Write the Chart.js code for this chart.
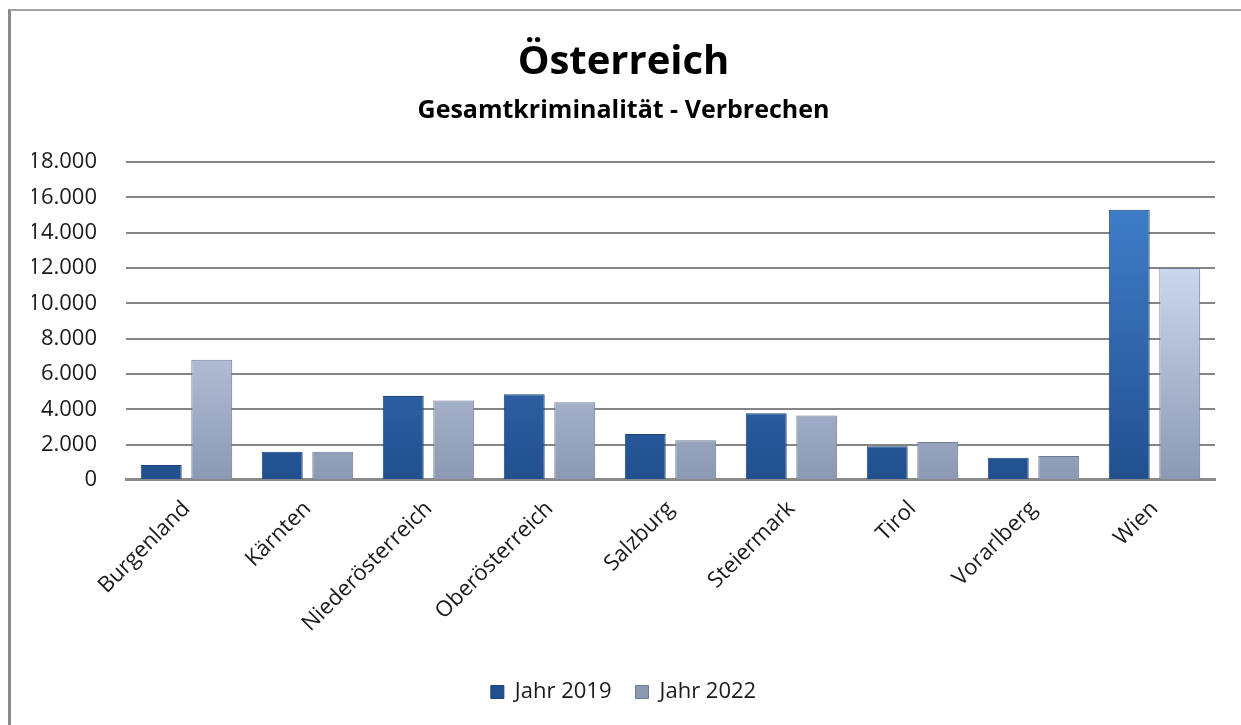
<!DOCTYPE html>
<html>
<head>
<meta charset="utf-8">
<script src="https://cdn.jsdelivr.net/npm/chart.js@4"></script>
<style>
  html, body { margin: 0; padding: 0; background: #ffffff; }
  #wrap { position: relative; width: 1241px; height: 725px; overflow: hidden; }
  #frame { position: absolute; left: 8px; top: 9px; width: 1300px; height: 800px;
           border-left: 3px solid #8a8a8a; border-top: 2px solid #a5a5a5; }
  #chart { position: absolute; left: 0; top: 0; }
</style>
</head>
<body>
<div id="wrap">
  <div id="frame"></div>
  <canvas id="chart" width="1241" height="725"></canvas>
</div>
<script>
const regionen = ['Burgenland', 'Kärnten', 'Niederösterreich', 'Oberösterreich', 'Salzburg',
                  'Steiermark', 'Tirol', 'Vorarlberg', 'Wien'];
const jahr2019 = [850, 1600, 4750, 4850, 2600, 3780, 1900, 1250, 15300];
const jahr2022 = [6800, 1600, 4500, 4400, 2250, 3650, 2150, 1350, 12000];
const yTicks = [0, 2000, 4000, 6000, 8000, 10000, 12000, 14000, 16000, 18000];

const schrift = '"Open Sans", "Noto Sans", sans-serif';

// Farben: [oben, unten, Rand]
const farben = [
    ['#3f7dc8', '#22508f', '#1d4274'],
    ['#ccd7ed', '#8c99b3', '#6f7b93']
];

// jeder Balken bekommt seinen eigenen senkrechten Verlauf
const balkenVerlauf = {
    id: 'balkenVerlauf',
    beforeDatasetsDraw(chart) {
        const c = chart.ctx;
        chart.data.datasets.forEach((ds, i) => {
            const f = farben[i];
            chart.getDatasetMeta(i).data.forEach(bar => {
                const gv = c.createLinearGradient(0, bar.y, 0, bar.base);
                gv.addColorStop(0, f[0]);
                gv.addColorStop(1, f[1]);
                bar.options.backgroundColor = gv;
            });
        });
    }
};

const ctx = document.getElementById('chart').getContext('2d');
const chart = new Chart(ctx, {
    type: 'bar',
    data: {
        labels: regionen,
        datasets: [{
            label: 'Jahr 2019',
            data: jahr2019,
            backgroundColor: farben[0][0],
            borderColor: farben[0][2],
            borderWidth: 1
        }, {
            label: 'Jahr 2022',
            data: jahr2022,
            backgroundColor: farben[1][0],
            borderColor: farben[1][2],
            borderWidth: 1
        }]
    },
    options: {
        responsive: false,
        animation: false,
        categoryPercentage: 0.835,
        barPercentage: 0.81,
        layout: { padding: { top: 39, left: 32, right: 26, bottom: 12 } },
        plugins: {
            title: {
                display: true,
                text: 'Österreich',
                color: '#000000',
                font: { family: schrift, size: 40, weight: 'bold' },
                padding: { top: 0, bottom: 9 }
            },
            subtitle: {
                display: true,
                text: 'Gesamtkriminalität - Verbrechen',
                color: '#000000',
                font: { family: schrift, size: 25, weight: 'bold' },
                padding: { top: 0, bottom: 36 }
            },
            legend: {
                position: 'bottom',
                labels: {
                    color: '#1a1a1a',
                    font: { family: schrift, size: 22 },
                    boxWidth: 13,
                    boxHeight: 13,
                    padding: 24,
                    generateLabels: ch => Chart.defaults.plugins.legend.labels.generateLabels(ch).map((it, i) => {
                        it.fillStyle = farben[i][1];
                        return it;
                    })
                }
            },
            tooltip: { enabled: false }
        },
        scales: {
            x: {
                grid: { display: false },
                border: { display: true, color: '#8a8a8a', width: 3 },
                afterFit: axis => { axis.paddingLeft = 0; axis.height += 12; },
                ticks: {
                    color: '#1a1a1a',
                    font: { family: schrift, size: 22 },
                    maxRotation: 45,
                    minRotation: 45,
                    padding: 8
                }
            },
            y: {
                min: 0,
                max: 18000,
                afterBuildTicks: axis => { axis.ticks = yTicks.map(v => ({ value: v })); },
                afterFit: axis => { axis.width = 94; },
                grid: { color: '#858585', lineWidth: 2, drawTicks: false },
                border: { display: false },
                ticks: {
                    color: '#1a1a1a',
                    font: { family: schrift, size: 22 },
                    padding: 29,
                    callback: v => v.toLocaleString('de-DE')
                }
            }
        }
    },
    plugins: [balkenVerlauf]
});
</script>
</body>
</html>
